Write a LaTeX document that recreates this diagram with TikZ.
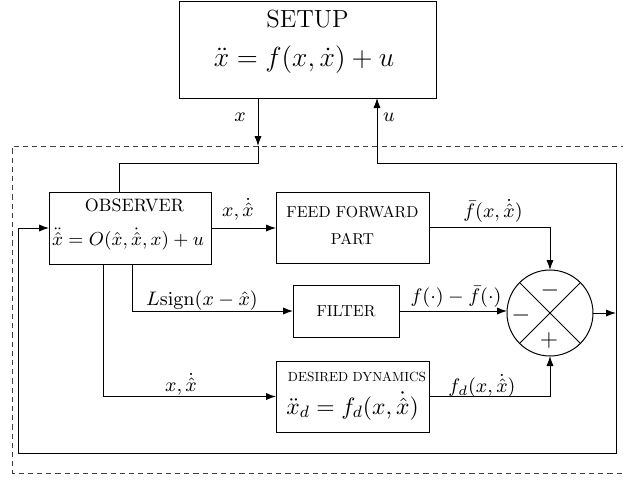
\RequirePackage{fix-cm}
\documentclass[tikz,border=0pt]{standalone}
\usepackage{graphicx}
\usetikzlibrary{arrows.meta}
\begin{document}
\begin{tikzpicture}[x=0.5pt,y=-0.5pt,
  box/.style={draw, rectangle, inner sep=0pt, outer sep=0pt, line width=0.5pt},
  sumnode/.style={draw, circle, inner sep=0pt, outer sep=0pt, line width=0.5pt, minimum size=43pt},
  arr/.style={-{Latex[length=5pt,width=3.6pt]}, line width=0.5pt},
  ln/.style={line width=0.5pt},
  txt/.style={inner sep=0pt, outer sep=0pt},
  lbl/.style={inner sep=0pt, outer sep=0pt, font=\fontsize{9.8}{11}\selectfont},
  dframe/.style={line width=0.5pt, dash pattern=on 2.6pt off 2pt, black!75}]
\useasboundingbox (0,0) rectangle (623,479);

% dashed frame
\coordinate (fa) at (626,146);
\coordinate (fb) at (12,146);
\coordinate (fc) at (12,473);
\coordinate (fd) at (626,473);
\draw[dframe] (fa) -- (fb) -- (fc) -- (fd);

% boxes
\node[box, minimum width=128.5pt, minimum height=48.5pt] (setup) at (307.5,49.5) {};
\node[txt] (setupA) at (307.5,19) {\fontsize{12.4}{14}\selectfont SETUP};
\node[txt] (setupB) at (304,60) {\fontsize{13.8}{15}\selectfont $\ddot{x} = f(x,\dot{x}) + u$};

\node[box, minimum width=81pt, minimum height=36pt] (obs) at (130,228) {};
\node[txt] (obsA) at (134.5,205) {\resizebox{49.5pt}{!}{OBSERVER}};
\node[txt] (obsB) at (128,239) {\fontsize{9.4}{11}\selectfont $\ddot{\hat{x}} = O(\hat{x},\dot{\hat{x}},x) + u$};

\node[box, minimum width=76.5pt, minimum height=35.5pt] (ff) at (352.5,227.5) {};
\node[txt] (ffA) at (352.5,212) {\resizebox{66pt}{!}{FEED FORWARD}};
\node[txt] (ffB) at (352.5,239) {\resizebox{21.5pt}{!}{PART}};

\node[box, minimum width=53pt, minimum height=26pt] (filter) at (346,311) {\resizebox{29.5pt}{!}{FILTER}};

\node[box, minimum width=76.5pt, minimum height=35.5pt] (dd) at (352.5,396.5) {};
\node[txt] (ddA) at (357,377) {\resizebox{69pt}{!}{DESIRED DYNAMICS}};
\node[txt] (ddB) at (352.5,406) {\fontsize{11.8}{13}\selectfont $\ddot{x}_d = f_d(x,\dot{\hat{x}})$};

% summing junction
\node[sumnode] (circ) at (550,313) {};
\draw[ln] (circ.north east) -- (circ.south west);
\draw[ln] (circ.north west) -- (circ.south east);
\node[txt] (sgnT) at (550,290) {\fontsize{12}{14}\selectfont $-$};
\node[txt] (sgnL) at (521,315) {\fontsize{12}{14}\selectfont $-$};
\node[txt] (sgnB) at (549,340) {\fontsize{12}{14}\selectfont $+$};

% x from setup to observer
\coordinate (xd) at (258,146);
\coordinate (xk) at (258,163);
\coordinate (xo) at (119,163);
\draw[arr] (setup.south -| xd) -- (xd);
\draw[ln] (xd) -- (xk) -- (xo) -- (xo |- obs.north);
\node[lbl] (lx) at (240,117) {$x$};

% u loop
\coordinate (rt) at (616,163);
\coordinate (rb) at (616,453);
\coordinate (lb) at (18,453);
\coordinate (uc) at (377,163);
\draw[arr] (rt) -- (uc) -- (uc |- setup.south);
\node[lbl] (lu) at (389,117) {$u$};
\draw[arr] (circ.east) -- (circ.east -| rt);
\draw[ln] (rt) -- (rb) -- (lb) -- (lb |- obs.west);
\draw[arr] (lb |- obs.west) -- (obs.west);

% observer to feed forward
\draw[arr] (obs.east) -- (obs.east -| ff.west);
\node[lbl] (l1) at (238,209) {$x,\dot{\hat{x}}$};

% feed forward to sum
\draw[arr] (ff.east) -| (circ.north);
\node[lbl] (l2) at (493,211) {$\bar{f}(x,\dot{\hat{x}})$};

% observer to filter
\coordinate (o1) at (132,264);
\draw[arr] (o1) |- (filter.west);
\node[lbl] (l3) at (202,301) {$L\mathrm{sign}(x-\hat{x})$};

% filter to sum
\draw[arr] (filter.east) -- (filter.east -| circ.west);
\node[lbl] (l4) at (456,297) {$f(\cdot)-\bar{f}(\cdot)$};

% observer to desired dynamics
\coordinate (o2) at (103,264);
\draw[arr] (o2) |- (dd.west);
\node[lbl] (l5) at (181,384) {$x,\dot{\hat{x}}$};

% desired dynamics to sum
\draw[arr] (dd.east) -| (circ.south);
\node[lbl] (l6) at (482,386) {$f_d(x,\dot{\hat{x}})$};
\end{tikzpicture}
\end{document}
